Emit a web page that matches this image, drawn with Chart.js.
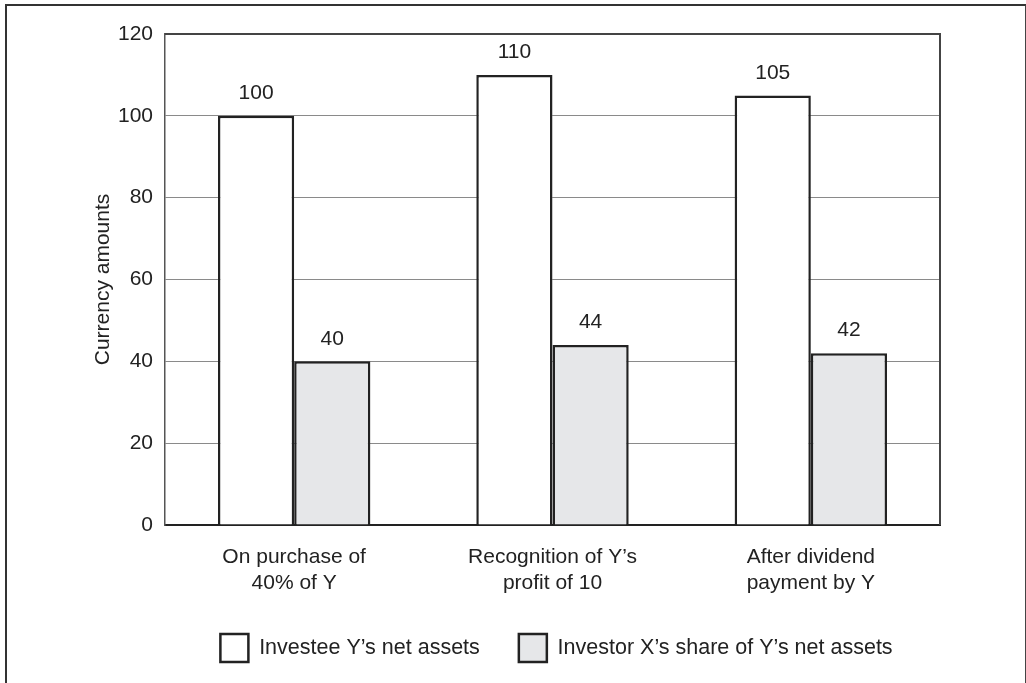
<!DOCTYPE html>
<html>
<head>
<meta charset="utf-8">
<script src="https://cdn.jsdelivr.net/npm/chart.js@4/dist/chart.umd.min.js"></script>
<style>
  body { margin: 0; background: #fff; }
  #frame {
    position: absolute; left: 5px; top: 4px; width: 1018px; height: 720px;
    border-left: 2px solid #333; border-top: 2px solid #333; border-right: 2px solid #444;
  }
  #chart { position: absolute; left: 0; top: 0; }
</style>
</head>
<body>
<div id="frame"></div>
<canvas id="chart" width="1026" height="683"></canvas>
<script>
const categories = [
  ['On purchase of', '40% of Y'],
  ['Recognition of Y\u2019s', 'profit of 10'],
  ['After dividend', 'payment by Y'],
];
const seriesNames = ['Investee Y\u2019s net assets', 'Investor X\u2019s share of Y\u2019s net assets'];
const netAssets = [100, 110, 105];
const investorShare = [40, 44, 42];
const yTicks = [0, 20, 40, 60, 80, 100, 120];

const FONT = "'Liberation Sans', Arial, Helvetica, sans-serif";
const INK = '#222';

// value labels above each bar
const valueLabels = {
  id: 'valueLabels',
  afterDatasetsDraw(chart) {
    const ctx = chart.ctx;
    ctx.save();
    ctx.font = `21px ${FONT}`;
    ctx.fillStyle = INK;
    ctx.textAlign = 'center';
    ctx.textBaseline = 'bottom';
    chart.data.datasets.forEach((ds, i) => {
      chart.getDatasetMeta(i).data.forEach((bar, j) => {
        ctx.fillText(String(ds.data[j]), bar.x, bar.y - 12);
      });
    });
    ctx.restore();
  },
};

// top and right edges of the plot box
const plotFrame = {
  id: 'plotFrame',
  beforeDatasetsDraw(chart) {
    const { left, top, right, bottom } = chart.chartArea;
    const ctx = chart.ctx;
    ctx.save();
    ctx.strokeStyle = '#444';
    ctx.lineWidth = 2;
    ctx.beginPath();
    ctx.moveTo(left, top);
    ctx.lineTo(right, top);
    ctx.lineTo(right, bottom);
    ctx.stroke();
    ctx.restore();
  },
};

// nudge the legend so it sits under the plot the way the original does
const legendShift = {
  id: 'legendShift',
  afterLayout(chart) {
    if (chart.legend) {
      chart.legend.left += 41;
      chart.legend.right += 41;
    }
  },
};

new Chart(document.getElementById('chart'), {
  type: 'bar',
  data: {
    labels: categories,
    datasets: [
      {
        label: seriesNames[0],
        data: netAssets,
        backgroundColor: '#ffffff',
        borderColor: INK,
        borderWidth: 2.5,
      },
      {
        label: seriesNames[1],
        data: investorShare,
        backgroundColor: '#e6e7e9',
        borderColor: INK,
        borderWidth: 2.5,
      },
    ],
  },
  options: {
    responsive: false,
    animation: false,
    layout: { padding: { left: 91, right: 86, top: 34, bottom: 11 } },
    datasets: {
      bar: { categoryPercentage: 0.59, barPercentage: 1.0 },
    },
    plugins: {
      legend: {
        position: 'bottom',
        labels: {
          boxWidth: 28,
          boxHeight: 28,
          padding: 39,
          color: INK,
          font: { family: FONT, size: 21.5 },
        },
      },
      tooltip: { enabled: false },
    },
    scales: {
      x: {
        grid: { display: false, drawTicks: false },
        border: { color: INK, width: 2 },
        ticks: {
          color: INK,
          padding: 19,
          maxRotation: 0,
          font: { family: FONT, size: 21, lineHeight: 1.25 },
        },
        afterFit(scale) {
          scale.height = 70;
        },
      },
      y: {
        min: 0,
        max: 120,
        afterBuildTicks(axis) {
          axis.ticks = yTicks.map((v) => ({ value: v }));
        },
        afterFit(scale) {
          scale.width = 74;
        },
        grid: { color: '#8a8a8a', lineWidth: 1, drawTicks: false },
        border: { color: '#555', width: 1.5 },
        ticks: {
          color: INK,
          padding: 12,
          font: { family: FONT, size: 21 },
        },
        title: {
          display: true,
          text: 'Currency amounts',
          color: INK,
          padding: { top: 0, bottom: 2 },
          font: { family: FONT, size: 21 },
        },
      },
    },
  },
  plugins: [plotFrame, valueLabels, legendShift],
});
</script>
</body>
</html>
